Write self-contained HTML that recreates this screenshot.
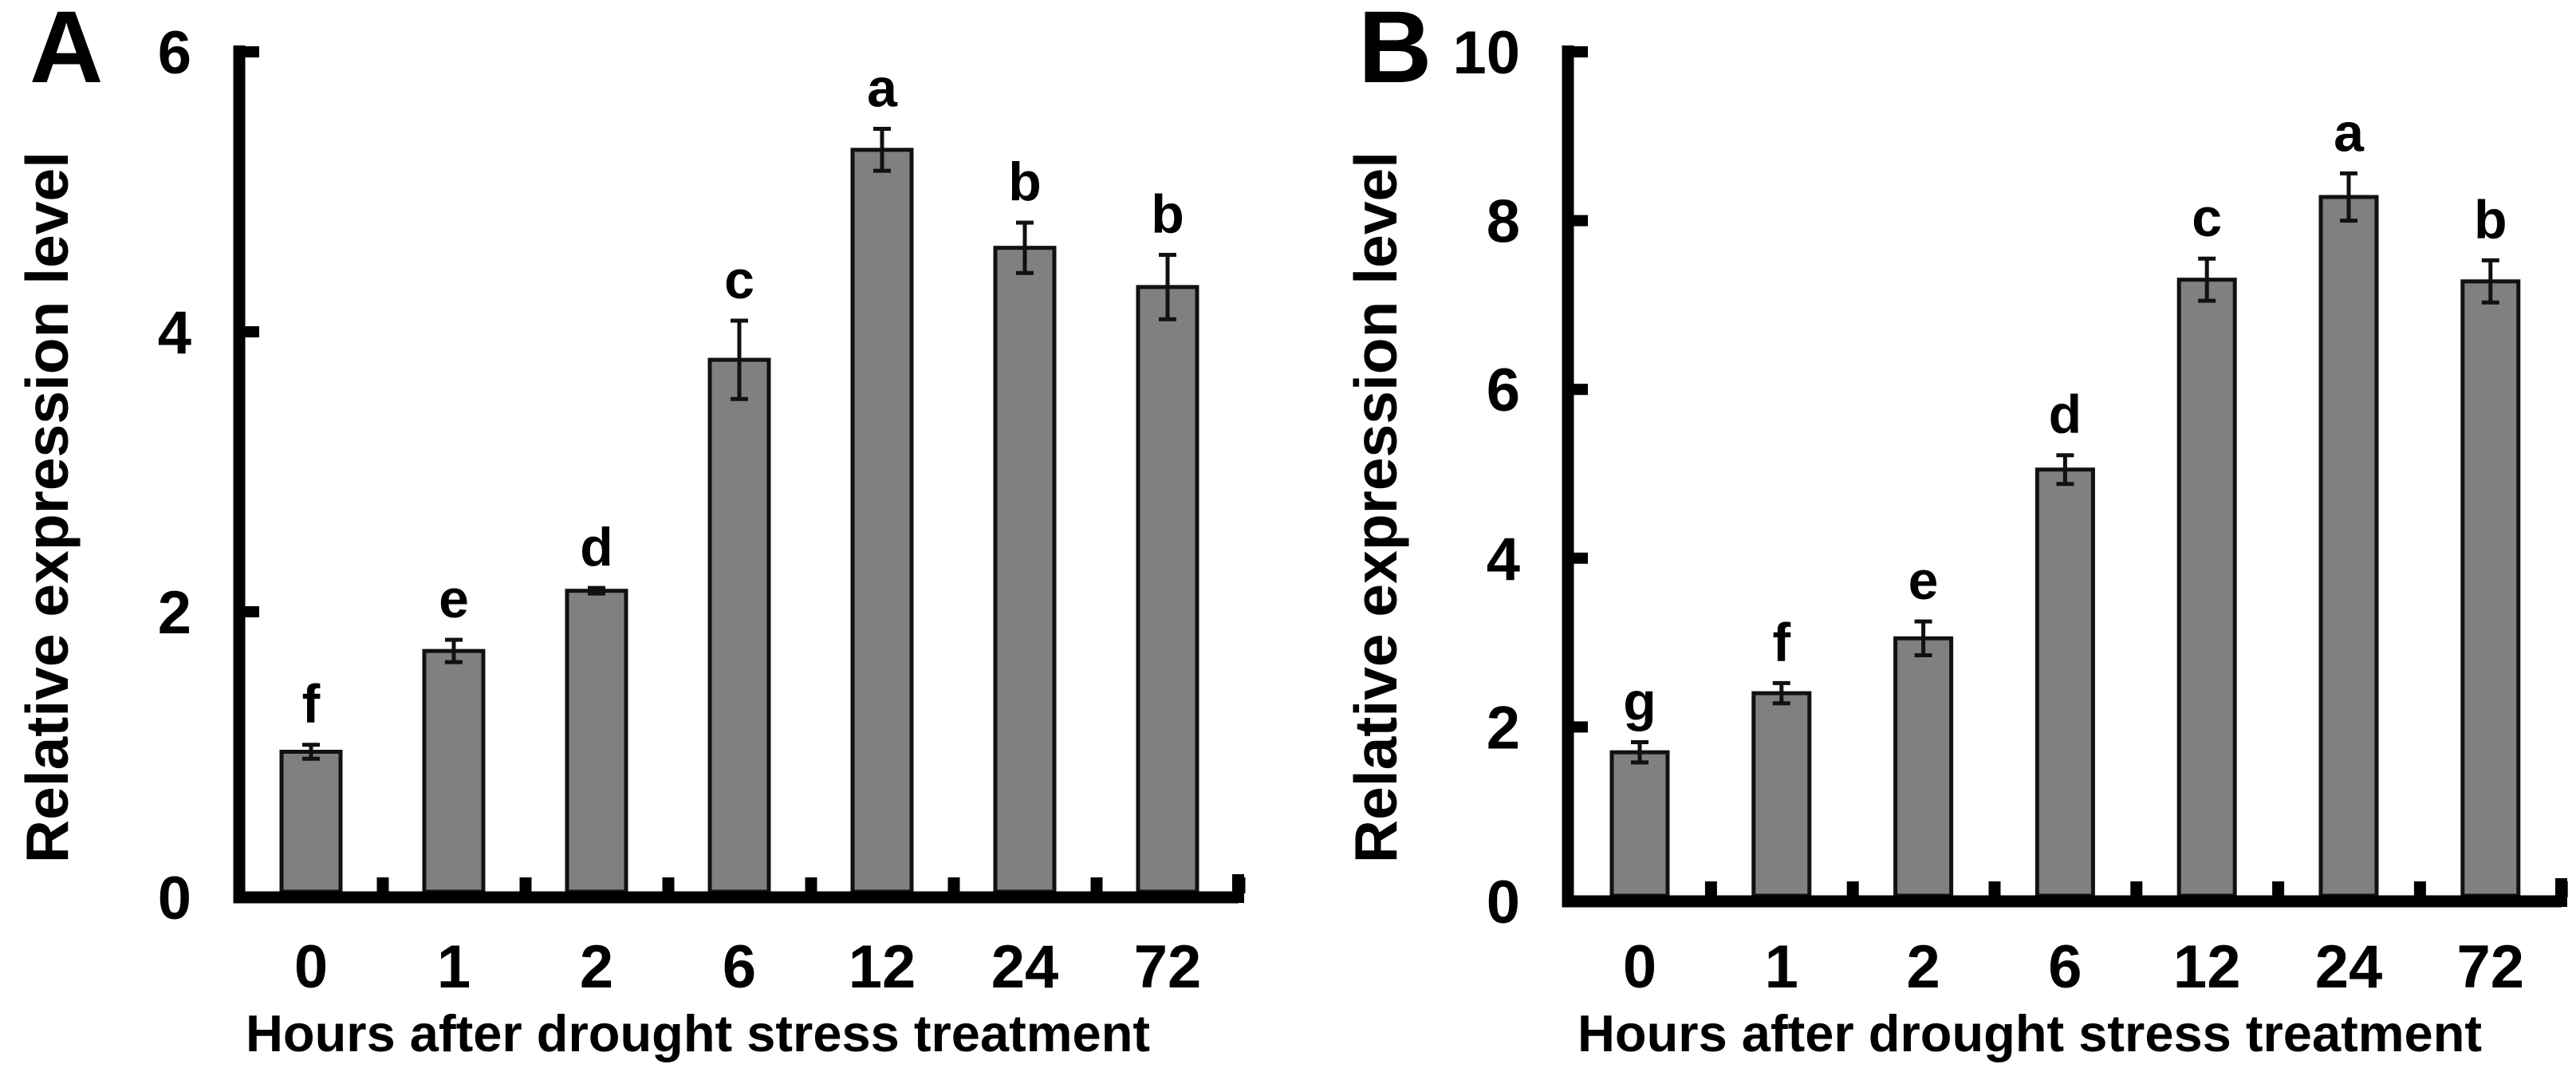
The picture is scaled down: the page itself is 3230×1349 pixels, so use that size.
<!DOCTYPE html>
<html><head><meta charset="utf-8"><style>
html,body{margin:0;padding:0;background:#fff;}
svg{display:block;font-family:"Liberation Sans",Arial,sans-serif;font-weight:bold;}
</style></head><body>
<svg id="chart" width="3230" height="1349" viewBox="0 0 3230 1349" xmlns="http://www.w3.org/2000/svg"></svg>
<script>
const categories = ["0","1","2","6","12","24","72"];
const valuesA = [1.0, 1.72, 2.15, 3.8, 5.3, 4.6, 4.32];
const errorsA = [0.05, 0.08, 0.02, 0.28, 0.15, 0.18, 0.23];
const lettersA = ["f","e","d","c","a","b","b"];
const ticksA = [0, 2, 4, 6];
const valuesB = [1.7, 2.4, 3.05, 5.05, 7.3, 8.28, 7.28];
const errorsB = [0.12, 0.12, 0.2, 0.17, 0.25, 0.28, 0.25];
const lettersB = ["g","f","e","d","c","a","b"];
const ticksB = [0, 2, 4, 6, 8, 10];

const NS = "http://www.w3.org/2000/svg";
const svg = document.getElementById("chart");
function mk(tag, attrs, parent){
  const e = document.createElementNS(NS, tag);
  for (const k in attrs) e.setAttribute(k, attrs[k]);
  (parent||svg).appendChild(e);
  return e;
}

function panel(cfg){
  const g = mk("g", {});
  
  
  const y = v => cfg.y0 - (v / cfg.ymax) * (cfg.y0 - cfg.yTop);
  const x = i => cfg.x0 + i * cfg.step;
  cfg.values.forEach((v, i) => {
    const r = mk("rect", {x: x(i) - cfg.bw/2, y: y(v), width: cfg.bw, height: cfg.y0 - y(v), fill: "#808080", stroke: "#111", "stroke-width": 5}, g);
    
    
    const top = y(v + cfg.errors[i]), bot = y(v - cfg.errors[i]);
    const eb = mk("path", {d: `M${x(i)},${top}V${bot}M${x(i)-11},${top}H${x(i)+11}M${x(i)-11},${bot}H${x(i)+11}`, stroke: "#111", "stroke-width": 5, fill: "none"}, g);
    
    
    const t = mk("text", {x: x(i), y: top - 28, "text-anchor": "middle", "font-size": 68}, g);
    t.textContent = cfg.letters[i];
    
    
    const tl = mk("text", {x: x(i), y: 1238, "text-anchor": "middle", "font-size": 76}, g);
    tl.textContent = categories[i];
    
    
  });
  const ax = mk("path", {d: `M${cfg.axX},${cfg.yTop-8}V${cfg.y0+7}H${cfg.xEnd}`, stroke: "#000", "stroke-width": 15, fill: "none"}, g);
  
  
  for (let i = 0; i < categories.length; i++) {
    const tx = x(i) + cfg.step/2;
    const tk = mk("rect", {x: tx - 7, y: cfg.y0 - 18, width: 15, height: 20, fill: "#000"}, g);
    
    
  }
  const endTk = mk("rect", {x: cfg.xEnd - 8, y: cfg.y0 - 22, width: 15, height: 36, fill: "#000"}, g);
  
  
  cfg.ticks.forEach(tv => {
    const yt = tv === 0 ? cfg.y0 + 7 : y(tv);
    if (tv !== 0) {
      const tk = mk("rect", {x: cfg.axX, y: yt - 7, width: 25, height: 14, fill: "#000"}, g);
      
      
    }
    const lt = mk("text", {x: cfg.axX - 60, y: yt + 27, "text-anchor": "end", "font-size": 76}, g);
    lt.textContent = tv;
    
    
  });
  const yt = mk("text", {x: 0, y: 0, "text-anchor": "middle", "font-size": 75, transform: `translate(${cfg.axX - 215},${cfg.titleY}) rotate(-90)`}, g);
  yt.textContent = "Relative expression level";
  
  
  const xt = mk("text", {x: cfg.xTitleX, y: 1318, "text-anchor": "middle", "font-size": 65}, g);
  xt.textContent = "Hours after drought stress treatment";
  
  
  const pl = mk("text", {x: cfg.axX - 263, y: 103, "font-size": 128}, g);
  pl.textContent = cfg.id;
  
  
}

panel({id: "A", values: valuesA, errors: errorsA, letters: lettersA, ticks: ticksA, ymax: 6,
  y0: 1118, yTop: 65, axX: 300, x0: 390, step: 179, bw: 74, xEnd: 1553, xTitleX: 875, titleY: 636});
panel({id: "B", values: valuesB, errors: errorsB, letters: lettersB, ticks: ticksB, ymax: 10,
  y0: 1123, yTop: 65, axX: 1966, x0: 2056, step: 177.8, bw: 70, xEnd: 3212, xTitleX: 2545, titleY: 636});
</script>
</body></html>
